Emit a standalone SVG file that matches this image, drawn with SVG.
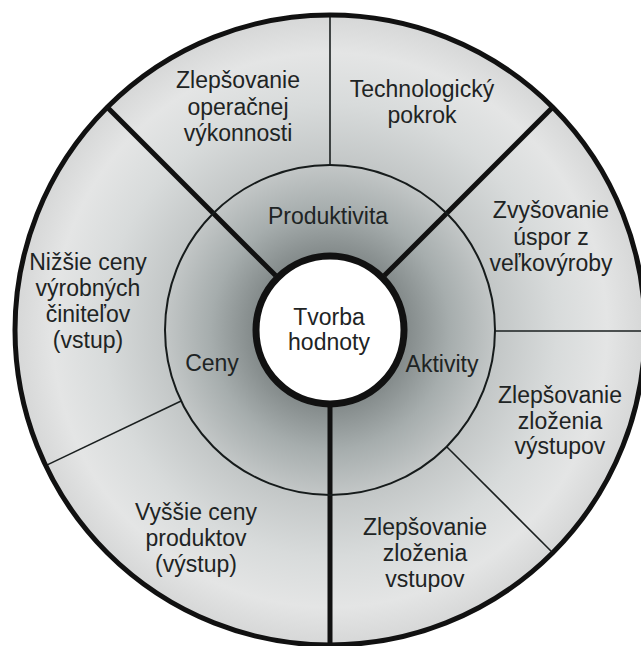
<svg xmlns="http://www.w3.org/2000/svg" width="641" height="646" viewBox="0 0 641 646">
  <defs>
    <radialGradient id="shade" cx="330" cy="330" r="315" gradientUnits="userSpaceOnUse">
      <stop offset="0" stop-color="#6c7373"/>
      <stop offset="0.24" stop-color="#838a8a"/>
      <stop offset="0.38" stop-color="#a6adad"/>
      <stop offset="0.52" stop-color="#c2c6c6"/>
      <stop offset="0.72" stop-color="#d8dbdb"/>
      <stop offset="0.88" stop-color="#e4e5e5"/>
      <stop offset="1" stop-color="#d6d7d7"/>
    </radialGradient>
    <style>
      .lbl { font-family: "Liberation Sans", Arial, sans-serif; font-size: 23px; fill: #1e2424; text-anchor: middle; }
      .thick { stroke: #111; stroke-width: 5; fill: none; }
      .thin { stroke: #1a1f1f; stroke-width: 1.6; fill: none; }
    </style>
  </defs>

  <rect width="641" height="646" fill="#ffffff"/>

  <!-- shaded disc -->
  <circle cx="330" cy="330" r="315" fill="url(#shade)"/>

  <!-- dividing lines -->
  <g id="connectors">
    <line class="thick" x1="275.6" y1="275.6" x2="107.3" y2="107.3"/>
    <line class="thick" x1="384.4" y1="275.6" x2="552.7" y2="107.3"/>
    <line class="thick" x1="330" y1="405" x2="330" y2="646"/>
    <line class="thin" x1="330" y1="165" x2="330" y2="15"/>
    <line class="thin" x1="495" y1="331" x2="641" y2="331"/>
    <line class="thin" x1="446.7" y1="446.7" x2="552.7" y2="552.7"/>
    <line class="thin" x1="181.1" y1="401" x2="45.7" y2="465.6"/>
  </g>

  <!-- middle ring -->
  <g id="ring">
    <circle cx="330" cy="330" r="165" fill="none" stroke="#161b1b" stroke-width="2"/>
    <text class="lbl" x="328" y="224">Produktivita</text>
    <text class="lbl" x="212" y="371">Ceny</text>
    <text class="lbl" x="442" y="372">Aktivity</text>
  </g>

  <!-- centre -->
  <g id="center">
    <circle cx="330" cy="330" r="74" fill="#ffffff" stroke="#111" stroke-width="7"/>
    <text class="lbl" x="329" y="325">Tvorba</text>
    <text class="lbl" x="329" y="350">hodnoty</text>
  </g>

  <!-- outer border -->
  <circle cx="330" cy="330" r="315" fill="none" stroke="#111" stroke-width="5"/>

  <g id="operacna">
    <text class="lbl" x="238" y="88">Zlepšovanie</text>
    <text class="lbl" x="238" y="115">operačnej</text>
    <text class="lbl" x="238" y="141">výkonnosti</text>
  </g>
  <g id="technologia">
    <text class="lbl" x="422" y="97">Technologický</text>
    <text class="lbl" x="422" y="123">pokrok</text>
  </g>
  <g id="velkovyroba">
    <text class="lbl" x="551" y="218">Zvyšovanie</text>
    <text class="lbl" x="551" y="245">úspor z</text>
    <text class="lbl" x="551" y="271">veľkovýroby</text>
  </g>
  <g id="vystupy">
    <text class="lbl" x="560" y="403">Zlepšovanie</text>
    <text class="lbl" x="560" y="429">zloženia</text>
    <text class="lbl" x="560" y="454">výstupov</text>
  </g>
  <g id="vstupy">
    <text class="lbl" x="425" y="535">Zlepšovanie</text>
    <text class="lbl" x="425" y="561">zloženia</text>
    <text class="lbl" x="425" y="587">vstupov</text>
  </g>
  <g id="ceny-produktov">
    <text class="lbl" x="196" y="520">Vyššie ceny</text>
    <text class="lbl" x="196" y="546">produktov</text>
    <text class="lbl" x="196" y="572">(výstup)</text>
  </g>
  <g id="ceny-cinitelov">
    <text class="lbl" x="88" y="270">Nižšie ceny</text>
    <text class="lbl" x="88" y="296">výrobných</text>
    <text class="lbl" x="88" y="322">činiteľov</text>
    <text class="lbl" x="88" y="348">(vstup)</text>
  </g>
</svg>
